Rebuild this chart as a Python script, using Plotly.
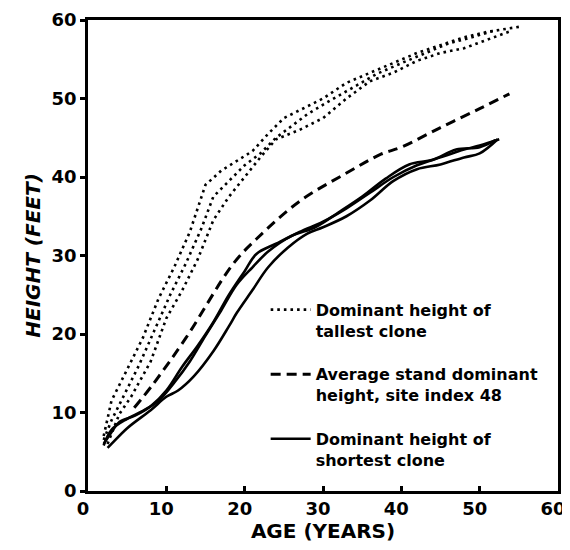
import plotly.graph_objects as go

# ---- Data ----
# Dominant height of tallest clone (three dotted curves)
tall1_age = [2, 3, 5, 7, 9, 11, 13, 15, 17, 19, 21, 23, 25, 27, 30, 33, 36, 39, 42, 45, 48, 51, 55.5]
tall1_h = [7, 11.5, 15.5, 19.5, 24.5, 28.5, 33, 39, 40.8, 42, 43.3, 45.5, 47.5, 48.5, 50, 52, 53.3, 54.5, 55.8, 56.8, 57.8, 58.5, 59.2]
tall2_age = [2, 3, 4.5, 6.5, 8.5, 10.5, 12.5, 14.5, 16, 18, 20, 22, 24, 26, 28, 31, 34, 37, 40, 43, 46, 49, 52]
tall2_h = [6.5, 9, 12, 16, 20.5, 25, 29, 33.5, 37.5, 39.5, 41.5, 43, 45, 46.5, 48, 49.8, 51.5, 53.2, 54.5, 55.8, 57, 57.8, 58.7]
tall3_age = [2.5, 4, 5.5, 8, 10, 12, 14, 16, 18, 20, 22, 24, 27, 30, 33, 36, 39, 42, 45, 48, 51, 54]
tall3_h = [6, 9.8, 12, 16.5, 22, 25.5, 29.5, 34.5, 37.5, 40, 42.5, 44.8, 46, 47.5, 50, 52.2, 53.3, 54.8, 55.8, 56.4, 57.5, 58.6]

# Average stand dominant height, site index 48 (dashed)
avg_age = [5.9, 8.3, 12.5, 18.5, 21.5, 27, 33, 37.4, 40, 45, 50, 53.8]
avg_h = [10.6, 13.6, 19.5, 28.9, 32.1, 36.9, 40.5, 42.9, 43.8, 46.3, 48.7, 50.6]

# Dominant height of shortest clone (three solid curves)
short1_age = [2, 3, 4, 6, 8, 10, 12, 14, 16, 18, 20, 21.5, 24, 27, 30, 33, 36, 39, 42, 45, 48, 50, 52.5]
short1_h = [6, 7.5, 8.8, 9.6, 10.8, 12.8, 15.8, 18.5, 21.5, 25, 28, 30.2, 31.5, 33, 34.3, 36, 38, 40, 41.5, 42.5, 43.5, 44, 44.8]
short2_age = [2, 3, 5, 7, 9, 11, 13, 15, 17, 19, 21, 23, 26, 29, 32, 35, 38, 41, 44, 47, 50, 52]
short2_h = [5.8, 7.8, 9.2, 10.2, 11.5, 13.8, 16.5, 19.8, 23, 26.3, 28.5, 30.5, 32.5, 33.6, 35.5, 37.5, 39.8, 41.6, 42.2, 43.5, 43.8, 44.7]
short3_age = [2.5, 3, 5, 8, 10, 11.5, 13.5, 16, 18, 19, 21, 23, 25.5, 28, 30, 33, 36, 39, 42, 45, 48, 50, 52.3]
short3_h = [5.5, 6, 8, 10.3, 12, 12.8, 14.6, 17.8, 21, 22.7, 25.6, 28.5, 31, 32.8, 33.6, 35, 37, 39.5, 41, 41.6, 42.5, 43, 44.8]

tick_vals = [0, 10, 20, 30, 40, 50, 60]
tick_text = ["0", "10", "20", "30", "40", "50", "60"]

FONT = "DejaVu Sans"

fig = go.Figure()

tall = [(tall1_age, tall1_h), (tall2_age, tall2_h), (tall3_age, tall3_h)]
for i, (a, h) in enumerate(tall):
    fig.add_trace(go.Scatter(
        x=a, y=h, mode="lines",
        line=dict(color="black", width=2.6, dash="2.6px,4px"),
        name="Dominant height of<br>tallest clone",
        legendgroup="tall", showlegend=(i == 0),
    ))

fig.add_trace(go.Scatter(
    x=avg_age, y=avg_h, mode="lines", line_shape="spline",
    line=dict(color="black", width=3, dash="10px,6px"),
    name="Average stand dominant<br>height, site index 48",
    legendgroup="avg", showlegend=True,
))

short = [(short1_age, short1_h), (short2_age, short2_h), (short3_age, short3_h)]
for i, (a, h) in enumerate(short):
    fig.add_trace(go.Scatter(
        x=a, y=h, mode="lines", line_shape="spline",
        line=dict(color="black", width=2.6),
        name="Dominant height of<br>shortest clone",
        legendgroup="short", showlegend=(i == 0),
    ))

axis_common = dict(
    range=[0, 60], tickvals=tick_vals, ticktext=tick_text,
    showgrid=False, zeroline=False, automargin=False,
    showline=True, linecolor="black", linewidth=2.5, mirror=True,
    tickcolor="black", tickwidth=2.5, ticklen=5,
    tickfont=dict(family=FONT, size=18, color="black", weight="bold"),
)

fig.update_xaxes(
    **axis_common, ticks="inside", ticklabelshift=-5,
    title=dict(text="AGE (YEARS)", standoff=0,
               font=dict(family=FONT, size=20, color="black", weight="bold")),
)
fig.update_yaxes(
    **axis_common, ticks="outside",
    title=dict(text="HEIGHT (FEET)", standoff=6,
               font=dict(family=FONT, size=20, color="black", weight="bold", style="italic")),
)

fig.update_layout(
    width=563, height=543,
    margin=dict(l=80, r=13, t=12, b=60, autoexpand=False),
    paper_bgcolor="white", plot_bgcolor="white",
    showlegend=True,
    legend=dict(
        x=0.378, y=0.421, xanchor="left", yanchor="top",
        bgcolor="rgba(0,0,0,0)", borderwidth=0,
        font=dict(family=FONT, size=16, color="black", weight="bold"),
        traceorder="grouped", tracegroupgap=20, valign="top",
        itemwidth=40,
    ),
)

fig.write_html("out.html")
